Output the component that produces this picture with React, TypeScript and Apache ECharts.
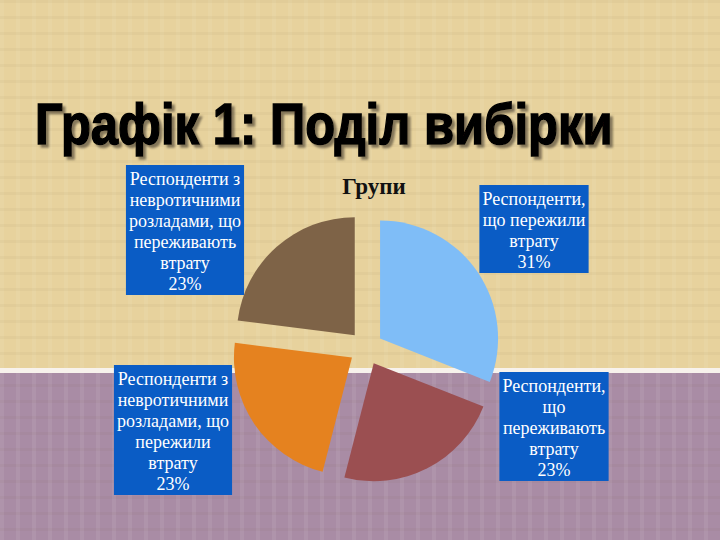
import React, { useEffect, useRef } from "react";
import * as echarts from "echarts";

const categories = [
  "Респонденти,\nщо пережили\nвтрату",
  "Респонденти,\nщо\nпереживають\nвтрату",
  "Респонденти з\nневротичними\nрозладами, що\nпережили\nвтрату",
  "Респонденти з\nневротичними\nрозладами, що\nпереживають\nвтрату",
];
const values = [31, 23, 23, 23];
const sliceColors = ["#7FBDF7", "#9B4F51", "#E5821F", "#7E6347"];
const labelAnchors = [
  [531, 185],
  [551, 372],
  [170, 365],
  [182, 165],
];
const chartTitle = "Групи";
const slideTitle = "Графік 1: Поділ вибірки";

export default function App() {
  const ref = useRef<HTMLDivElement>(null);
  useEffect(() => {
    document.body.style.margin = "0";
    const chart = echarts.init(ref.current!, null, { renderer: "svg" });
    const total = values.reduce((a, b) => a + b, 0);
    const stripes: any[] = [];
    for (let i = 0; i < 720; i += 16) {
      stripes.push({
        type: "rect",
        shape: { x: i, y: 0, width: 4, height: 540 },
        style: { fill: "rgba(255,255,255,0.07)" },
        silent: true,
        z: -9,
      });
    }
    for (let j = 0; j < 540; j += 16) {
      stripes.push({
        type: "rect",
        shape: { x: 0, y: j, width: 720, height: 3 },
        style: { fill: "rgba(120,90,60,0.05)" },
        silent: true,
        z: -9,
      });
    }
    const labelTitles = values.map((v, i) => ({
      text: categories[i] + "\n" + Math.round((v / total) * 100) + "%",
      left: labelAnchors[i][0],
      top: labelAnchors[i][1],
      textAlign: "center",
      backgroundColor: "#0A5CC5",
      padding: [3, 3, 1, 3],
      z: 20,
      textStyle: {
        color: "#FFFFFF",
        fontSize: 18,
        fontWeight: "normal",
        fontFamily: "Liberation Serif, Times New Roman, serif",
        lineHeight: 21,
        align: "center",
      },
    }));
    chart.setOption({
      animation: false,
      backgroundColor: "#E7D29D",
      graphic: [
        {
          type: "rect",
          shape: { x: 0, y: 0, width: 720, height: 368 },
          style: { fill: "#E7D29D" },
          silent: true,
          z: -10,
        },
        {
          type: "rect",
          shape: { x: 0, y: 368, width: 720, height: 5 },
          style: { fill: "#F7F2EC" },
          silent: true,
          z: -8,
        },
        {
          type: "rect",
          shape: { x: 0, y: 373, width: 720, height: 167 },
          style: { fill: "#A98CA5" },
          silent: true,
          z: -10,
        },
        ...stripes,
        {
          type: "text",
          x: 35,
          y: 96,
          scaleX: 0.86,
          style: {
            text: slideTitle,
            fill: "#000000",
            fontSize: 57,
            fontWeight: "bold",
            fontFamily: "Liberation Sans, Arial, sans-serif",
            stroke: "#000000",
            lineWidth: 1.5,
            textShadowColor: "rgba(90,80,60,0.7)",
            textShadowOffsetX: 3,
            textShadowOffsetY: 3,
            textShadowBlur: 2,
          } as any,
          z: 10,
        },
      ],
      title: [
        {
          text: chartTitle,
          left: 369,
          top: 170,
          textAlign: "center",
          textStyle: {
            fontFamily: "Liberation Serif, Times New Roman, serif",
            fontWeight: "bold",
            fontSize: 23,
            color: "#111111",
          },
        },
        ...labelTitles,
      ],
      series: [
        {
          type: "pie",
          center: [366, 348],
          radius: 118,
          startAngle: 90,
          clockwise: true,
          selectedMode: "multiple",
          selectedOffset: 17,
          data: values.map((v, i) => ({
            name: categories[i],
            value: v,
            selected: true,
            itemStyle: { color: sliceColors[i] },
          })),
          label: { show: false },
          labelLine: { show: false },
          emphasis: { disabled: true },
        },
      ],
    });
    return () => chart.dispose();
  }, []);
  return <div ref={ref} style={{ width: 720, height: 540 }} />;
}
